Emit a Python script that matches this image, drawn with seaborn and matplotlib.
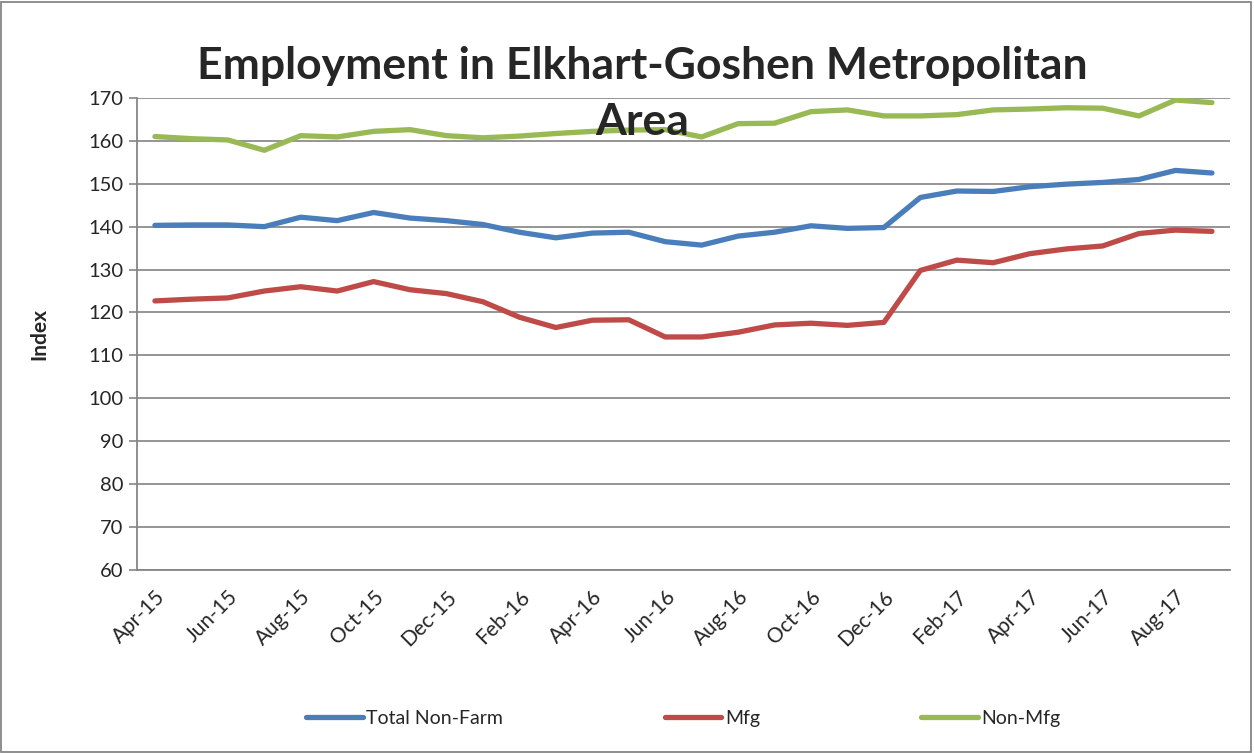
import pandas as pd
import seaborn as sns
from matplotlib import pyplot as plt
from matplotlib.patches import Rectangle

months = ['Apr-15', 'May-15', 'Jun-15', 'Jul-15', 'Aug-15', 'Sep-15', 'Oct-15', 'Nov-15', 'Dec-15',
          'Jan-16', 'Feb-16', 'Mar-16', 'Apr-16', 'May-16', 'Jun-16', 'Jul-16', 'Aug-16', 'Sep-16',
          'Oct-16', 'Nov-16', 'Dec-16', 'Jan-17', 'Feb-17', 'Mar-17', 'Apr-17', 'May-17', 'Jun-17',
          'Jul-17', 'Aug-17', 'Sep-17']

total_non_farm = [140.3, 140.4, 140.4, 140.0, 142.2, 141.4, 143.3, 142.0, 141.4, 140.5,
                  138.7, 137.4, 138.5, 138.7, 136.5, 135.7, 137.8, 138.7, 140.2, 139.6,
                  139.8, 146.8, 148.3, 148.2, 149.3, 149.9, 150.3, 151.0, 153.1, 152.5]
mfg = [122.7, 123.1, 123.4, 125.0, 126.0, 125.0, 127.2, 125.3, 124.4, 122.5,
       118.9, 116.5, 118.2, 118.3, 114.3, 114.3, 115.4, 117.1, 117.5, 117.0,
       117.7, 129.8, 132.2, 131.6, 133.7, 134.8, 135.5, 138.4, 139.2, 138.9]
non_mfg = [161.0, 160.5, 160.2, 157.8, 161.2, 160.9, 162.2, 162.6, 161.2, 160.7,
           161.1, 161.7, 162.2, 162.5, 162.6, 160.9, 164.0, 164.1, 166.8, 167.2,
           165.8, 165.8, 166.1, 167.2, 167.4, 167.7, 167.6, 165.8, 169.5, 168.9]

series_names = ['Total Non-Farm', 'Mfg', 'Non-Mfg']
colors = ['#4a7ebb', '#be4b48', '#98b954']


def main():
    sns.set_style('white')
    plt.rcParams['font.family'] = ['Lato', 'DejaVu Sans']

    idx = list(range(len(months)))
    df = pd.DataFrame({
        'x': idx * 3,
        'value': total_non_farm + mfg + non_mfg,
        'series': [s for s in series_names for _ in months],
    })

    fig = plt.figure(figsize=(12.54, 7.53), dpi=100)
    ax = fig.add_axes([0.109, 0.243, 0.872, 0.627])

    sns.lineplot(data=df, x='x', y='value', hue='series', hue_order=series_names,
                 palette=colors, linewidth=3.8, ax=ax, legend=True)

    ax.set_ylim(60, 170)
    ax.set_yticks(range(60, 171, 10))
    ax.set_xlim(-0.5, len(months) - 0.5)
    ax.set_xticks(idx[::2])
    ax.set_xticklabels(months[::2], rotation=45, ha='right', rotation_mode='anchor')
    ax.set_xticks([i - 0.5 for i in range(len(months) + 1)], minor=True)
    ax.tick_params(axis='x', which='major', length=0, labelsize=15, pad=12)
    ax.tick_params(axis='x', which='minor', length=6, color='#868686', width=1.2)
    ax.tick_params(axis='y', which='major', length=6, color='#868686', width=1.2, labelsize=14.5, left=True)

    ax.grid(axis='y', color='#8c8c8c', linewidth=1.3)
    ax.set_axisbelow(True)
    for side in ['top', 'right']:
        ax.spines[side].set_visible(False)
    for side in ['left', 'bottom']:
        ax.spines[side].set_color('#868686')
        ax.spines[side].set_linewidth(1.3)

    ax.set_xlabel('')
    ax.set_ylabel('Index', fontsize=15, fontweight='bold', labelpad=28)

    fig.text(0.512, 0.913, 'Employment in Elkhart-Goshen Metropolitan', ha='center', va='center',
             fontsize=32, fontweight='bold')
    fig.text(0.512, 0.838, 'Area', ha='center', va='center', fontsize=32, fontweight='bold')

    handles, labels = ax.get_legend_handles_labels()
    ax.legend(handles, labels, loc='center', bbox_to_anchor=(0.545, 0.046), bbox_transform=fig.transFigure,
              ncol=3, frameon=False, fontsize=14, columnspacing=8.3, handlelength=2.9, handletextpad=0.2)

    fig.add_artist(Rectangle((0.001, 0.001), 0.997, 0.997, transform=fig.transFigure,
                             fill=False, edgecolor='#868686', linewidth=1.3))

    plt.savefig('out.png', dpi=100)


if __name__ == '__main__':
    main()
